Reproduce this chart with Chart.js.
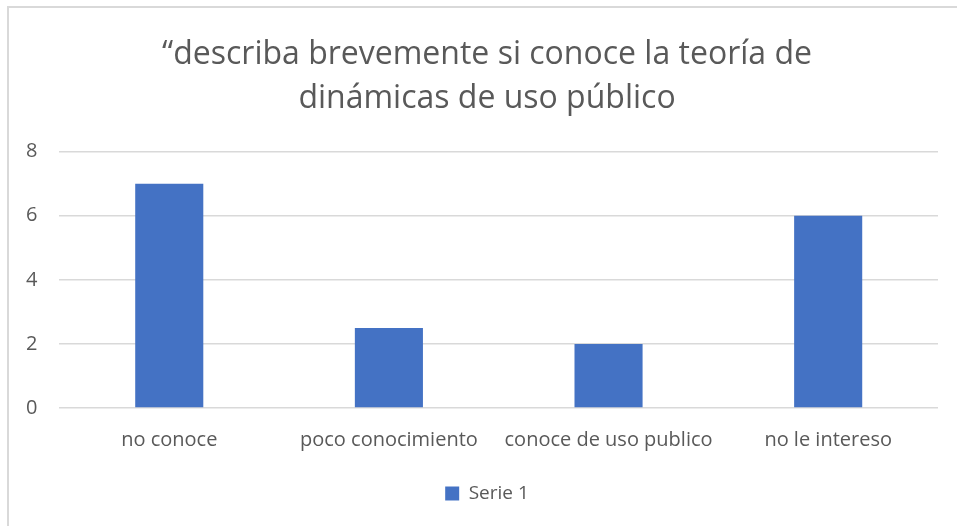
<!DOCTYPE html>
<html>
<head>
<meta charset="utf-8">
<script src="https://cdn.jsdelivr.net/npm/chart.js@4"></script>
<style>
  html, body { margin: 0; padding: 0; background: #fff; }
  #wrap { position: relative; width: 957px; height: 526px; }
  #frame { position: absolute; left: 7px; top: 6px; width: 960px; height: 530px; border-left: 2px solid #d9d9d9; border-top: 2px solid #d9d9d9; box-sizing: border-box; }
  canvas { position: absolute; left: 0; top: 0; }
</style>
</head>
<body>
<div id="wrap">
  <div id="frame"></div>
  <canvas id="chart" width="957" height="526"></canvas>
</div>
<script>
const categories = ["no conoce", "poco conocimiento", "conoce de uso publico", "no le intereso"];
const serie1 = [7, 2.5, 2, 6];
const titleLines = ["“describa brevemente si conoce la teoría de", "dinámicas de uso público"];
const grey = "#595959";

// title and legend sit centred on the whole frame, which runs past the right edge
const centreOnFrame = {
  id: 'centreOnFrame',
  afterLayout(chart) {
    [chart.titleBlock, chart.legend].forEach(function(box) {
      box.left += 16;
      box.right += 16;
    });
  }
};

const ctx = document.getElementById('chart').getContext('2d');
new Chart(ctx, {
  type: 'bar',
  data: {
    labels: categories,
    datasets: [{
      label: 'Serie 1',
      data: serie1,
      backgroundColor: "#4472C4",
      barPercentage: 0.31,
      categoryPercentage: 1
    }]
  },
  options: {
    responsive: false,
    animation: false,
    layout: { padding: { left: 4, right: 19, top: 32, bottom: 13 } },
    plugins: {
      title: {
        display: true,
        text: titleLines,
        color: grey,
        font: { family: "'Open Sans', sans-serif", size: 32, weight: 'normal', lineHeight: 1.4 },
        padding: { top: 0, bottom: 30 }
      },
      legend: {
        position: 'bottom',
        labels: {
          color: grey,
          font: { family: "'Open Sans', sans-serif", size: 19 },
          boxWidth: 14,
          boxHeight: 14,
          padding: 20
        }
      },
      tooltip: { enabled: false }
    },
    scales: {
      x: {
        grid: { display: false },
        border: { display: false },
        ticks: { color: grey, font: { family: "'Open Sans', sans-serif", size: 20 }, padding: 12 }
      },
      y: {
        min: 0,
        max: 8,
        ticks: { stepSize: 2, color: grey, font: { family: "'Open Sans', sans-serif", size: 20 }, padding: 22 },
        grid: { color: "#d9d9d9", lineWidth: 1.5, drawTicks: false },
        border: { display: false }
      }
    }
  },
  plugins: [centreOnFrame]
});
</script>
</body>
</html>
